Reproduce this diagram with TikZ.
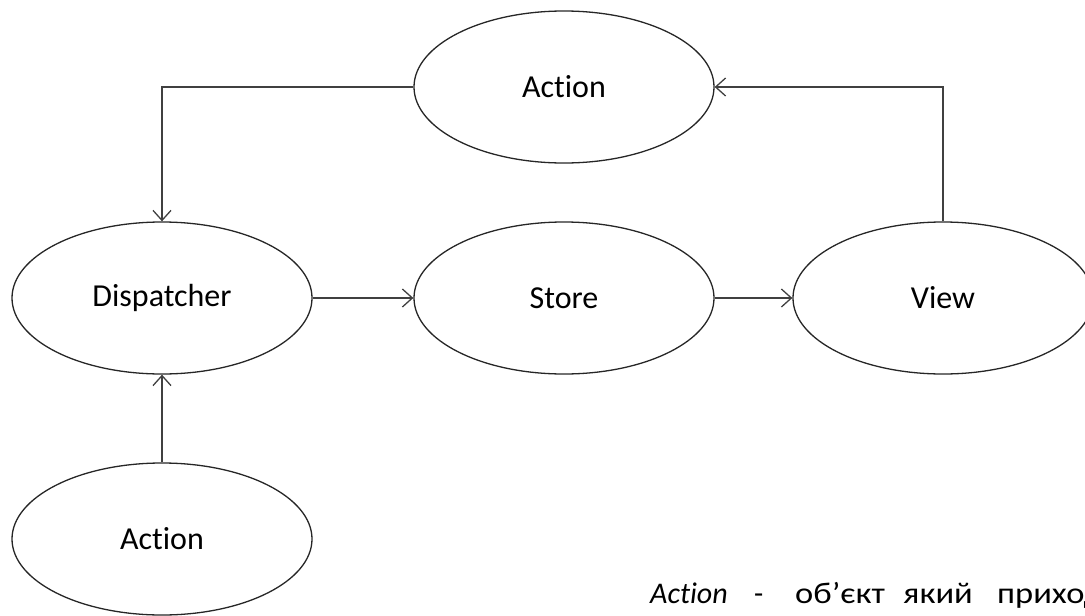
\documentclass[tikz,border=0pt]{standalone}
\usepackage{fontspec}
\setmainfont{Carlito}[Ligatures={NoCommon,TeX}]
\newfontfamily\widecyr{Carlito}[FakeStretch=1.15,Ligatures={NoCommon,TeX}]
\usetikzlibrary{shapes.geometric,arrows.meta}
\begin{document}
\begin{tikzpicture}[x=1pt,y=-1pt,
  bubble/.style={ellipse, draw=black!85, line width=1.3pt, minimum width=300pt,
    minimum height=152pt, inner sep=0pt, font=\fontsize{32}{38}\selectfont},
  flow/.style={draw=black!75, line width=1.6pt,
    -{Straight Barb[length=10pt,width=18pt,line width=1.3pt]}},
  word/.style={anchor=base west, inner sep=0pt, font=\widecyr\fontsize{30}{36}\selectfont},
]
\useasboundingbox (0,0) rectangle (1085,616);
% the five states of the flow
\node[bubble] (act)   at (564,87)  {Action};
\node[bubble] (disp)  at (162,298) {Dispatcher};
\node[bubble] (store) at (564,298) {Store};
\node[bubble] (view)  at (943,298) {View};
\node[bubble] (act2)  at (162,539) {Action};
% connectors
\draw[flow] (act.west) -| (disp.north);
\draw[flow] (disp) -- (store);
\draw[flow] (store) -- (view);
\draw[flow] (view.north) |- (act.east);
\draw[flow] (act2) -- (disp);
% caption line, set with wide justified spaces
\node[word, font=\fontsize{30}{36}\selectfont\itshape] (w1) at (650,603) {Action};
\node[word, font=\fontsize{30}{36}\selectfont] (w2) at (754,603) {-};
\node[word] (w3) at (795,603) {об’єкт};
\node[word] (w4) at (903,603) {який};
\node[word] (w5) at (997,603) {приход};
\end{tikzpicture}
\end{document}
